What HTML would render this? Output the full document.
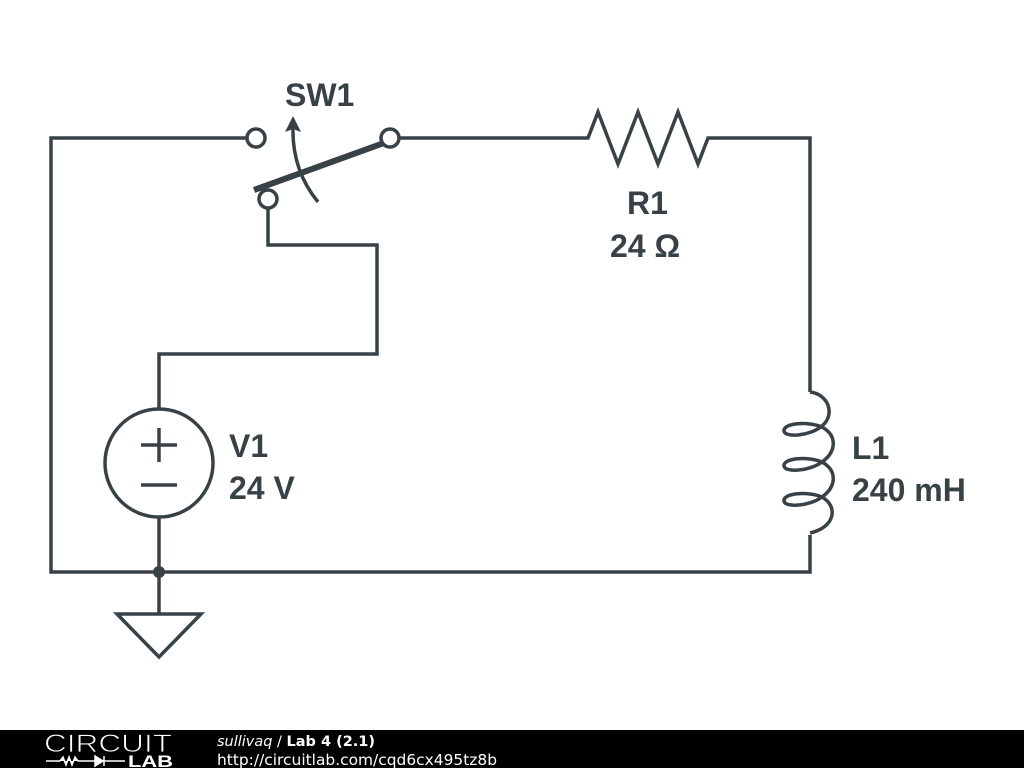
<!DOCTYPE html>
<html><head><meta charset="utf-8"><style>
html,body{margin:0;padding:0;background:#fff;width:1024px;height:768px;overflow:hidden}
svg{display:block}
</style></head><body>
<svg width="1024" height="768" viewBox="0 0 1024 768" xmlns="http://www.w3.org/2000/svg">
<g fill="none" stroke="#384246" stroke-width="3.5" stroke-linejoin="miter">
<path d="M247,138 H51 V572 H810 V535"/>
<path d="M399,138 H588 L598,112 L618,164 L638,112 L658,164 L678,112 L698,164 L708,138 H810 V392"/>
<path d="M810,392 C828,394 836,414 822,426 C810,436 785,438 784,431 C783,423 808,421 822,427 C838,436 836,452 822,462 C810,471 785,473 784,466 C783,458 808,456 822,462 C838,471 836,487 822,497 C810,506 785,508 784,501 C783,493 808,491 822,497 C838,506 836,527 810,533"/>
<path d="M268,208 V245 H377 V354 H159 V410"/>
<path d="M159,517 V614"/>
<circle cx="256" cy="138" r="9"/>
<circle cx="390" cy="138" r="9"/>
<circle cx="268" cy="199" r="9"/>
<circle cx="159" cy="463" r="54"/>
<path d="M141,445 H177 M159,428 V462 M141,485 H177"/>
<path d="M117,614 H201 L159,657 Z"/>
<path d="M318,202 C300,180 292,155 293,126"/>
</g>
<line x1="254" y1="190" x2="384" y2="143" stroke="#384246" stroke-width="6"/>
<path d="M293,116 L285,132 L293,129 L301,132 Z" fill="#384246"/>
<circle cx="159" cy="572" r="6" fill="#384246"/>
<g font-family="Liberation Sans, sans-serif" font-weight="bold" font-size="32" fill="#384246">
<text x="285" y="106">SW1</text>
<text x="627" y="214">R1</text>
<text x="610" y="257">24 Ω</text>
<text x="229" y="457">V1</text>
<text x="229" y="499">24 V</text>
<text x="852" y="459">L1</text>
<text x="852" y="501">240 mH</text>
</g>
<rect x="0" y="730" width="1024" height="38" fill="#000"/>
<text x="44" y="752" font-family="Liberation Sans, sans-serif" font-size="25" fill="#fff" textLength="128" lengthAdjust="spacingAndGlyphs" stroke="#000" stroke-width="0.8">CIRCUIT</text>
<path d="M46,761 H60 L63,757 L66,765 L69,757 L72,765 L75,757 L78,761 H95 M95,756 L103,761 L95,766 Z M104,756 V766 M104,761 H125" stroke="#fff" stroke-width="1.5" fill="#fff"/>
<text x="128" y="767" font-family="Liberation Sans, sans-serif" font-weight="bold" font-size="17" fill="#fff" textLength="45" lengthAdjust="spacingAndGlyphs">LAB</text>
<text x="217" y="746" font-family="DejaVu Sans, sans-serif" font-size="14.5" fill="#fff" textLength="158" lengthAdjust="spacingAndGlyphs"><tspan font-style="italic">sullivaq</tspan> / <tspan font-weight="bold">Lab 4 (2.1)</tspan></text>
<text x="217" y="765" font-family="DejaVu Sans, sans-serif" font-size="15.5" fill="#fff" textLength="280" lengthAdjust="spacingAndGlyphs">http://circuitlab.com/cqd6cx495tz8b</text>
</svg>
</body></html>
